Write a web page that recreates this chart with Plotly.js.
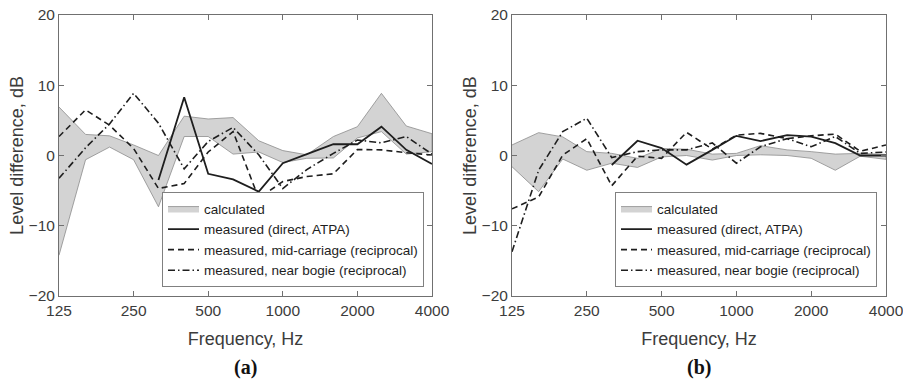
<!DOCTYPE html>
<html>
<head>
<meta charset="utf-8">
<script src="https://cdn.plot.ly/plotly-3.0.1.min.js"></script>
<style>
  html, body { margin: 0; padding: 0; background: #fff; }
  #chart { width: 903px; height: 380px; }
</style>
</head>
<body>
<div id="chart"></div>
<script>
// Third-octave band centre frequencies (Hz)
const freqs = [125, 160, 200, 250, 315, 400, 500, 630, 800, 1000, 1250, 1600, 2000, 2500, 3150, 4000];
const tickVals = [125, 250, 500, 1000, 2000, 4000];
const tickText = ['125', '250', '500', '1000', '2000', '4000'];
const seriesNames = ['calculated', 'measured (direct, ATPA)', 'measured, mid-carriage (reciprocal)', 'measured, near bogie (reciprocal)'];
const panelLabels = ['(a)', '(b)'];

// Panel (a)
const calcUpperA = [6.9, 3.0, 2.8, 1.5, 0.0, 5.6, 5.2, 5.4, 2.1, 0.7, 0.1, 2.7, 4.1, 8.85, 4.2, 3.1];
const calcLowerA = [-14.2, -0.6, 1.2, -0.6, -7.3, 2.7, 2.7, 0.2, 0.5, -1.0, -0.4, -0.35, 2.5, 3.4, 0.2, 0.55];
const directA = [null, null, null, null, -3.5, 8.3, -2.6, -3.4, -5.15, -1.1, 0.2, 1.6, 1.6, 4.1, 0.8, -1.2];
const midA = [2.7, 6.5, 4.3, 1.0, -4.7, -4.0, 0.5, 3.4, -6.1, -3.7, -3.0, -2.6, 0.85, 0.8, 0.4, 0.07];
const bogieA = [-3.25, 1.1, 4.5, 8.85, 4.6, -1.9, 2.0, 4.0, 0.1, -4.7, -2.0, 0.3, 2.2, 1.8, 2.7, 0.2];

// Panel (b)
const calcUpperB = [1.5, 3.25, 2.65, 0.55, 0.3, -0.4, 1.0, 0.9, 0.2, 0.3, 1.4, 0.8, 0.55, 0.2, 0.3, 0.15];
const calcLowerB = [-1.6, -5.15, -0.5, -2.1, -1.1, -1.7, -0.2, 0.0, -0.65, 0.0, 0.1, 0.0, -0.4, -2.1, -0.1, -0.55];
const directB = [null, null, null, null, -1.35, 2.1, 1.05, -1.3, 0.8, 2.8, 2.05, 2.9, 2.7, 1.75, 0.0, 0.0];
const midB = [-7.6, -5.9, 0.05, 2.4, -4.3, -0.1, -0.4, 3.3, 0.9, 2.9, 3.15, 2.4, 2.8, 3.05, 0.6, 1.5];
const bogieB = [-13.7, -2.1, 3.4, 5.3, -0.3, 0.55, 0.8, 0.8, 1.8, -1.1, 1.25, 2.4, 1.25, 2.7, 0.3, 0.5];

const lineColor = '#1e1e1e';
const styles = [
  null,
  { dash: 'solid', width: 1.8 },
  { dash: '6px,4px', width: 1.6 },
  { dash: '7px,3px,1.5px,3px', width: 1.6 }
];

function panel(upper, lower, direct, mid, bogie, xa, ya, legendId) {
  const bandX = freqs.concat(freqs.slice().reverse());
  const bandY = upper.concat(lower.slice().reverse());
  const traces = [{
    x: bandX, y: bandY, xaxis: xa, yaxis: ya, legend: legendId,
    type: 'scatter', mode: 'lines', fill: 'toself',
    fillcolor: '#d3d3d3', line: { color: '#8c8c8c', width: 0.8 },
    name: seriesNames[0], hoverinfo: 'skip'
  }];
  [direct, mid, bogie].forEach((ys, i) => {
    traces.push({
      x: freqs, y: ys, xaxis: xa, yaxis: ya, legend: legendId,
      type: 'scatter', mode: 'lines', connectgaps: false,
      line: { color: lineColor, width: styles[i + 1].width, dash: styles[i + 1].dash },
      name: seriesNames[i + 1]
    });
  });
  return traces;
}

const data = panel(calcUpperA, calcLowerA, directA, midA, bogieA, 'x', 'y', 'legend')
  .concat(panel(calcUpperB, calcLowerB, directB, midB, bogieB, 'x2', 'y2', 'legend2'));

const axisColor = '#707070';
const tickFont = { family: 'Liberation Sans, Arial, sans-serif', size: 15.5, color: '#3c3c3c' };
const titleFont = { family: 'Liberation Sans, Arial, sans-serif', size: 18, color: '#3c3c3c' };

function xAxis(domain, anchor) {
  return {
    domain: domain, anchor: anchor, type: 'log',
    range: [Math.log10(125), Math.log10(4000)],
    tickvals: tickVals, ticktext: tickText,
    ticks: 'inside', ticklen: 5, tickcolor: axisColor, tickwidth: 1,
    showline: true, linecolor: axisColor, linewidth: 1, mirror: 'ticks',
    showgrid: false, zeroline: false, tickfont: tickFont,
    ticklabeloverflow: 'allow',
    title: { text: 'Frequency, Hz', font: titleFont, standoff: 14 }
  };
}
function yAxis(anchor) {
  return {
    domain: [0, 1], anchor: anchor, range: [-20, 20],
    tickvals: [-20, -10, 0, 10, 20],
    ticks: 'inside', ticklen: 5, tickcolor: axisColor, tickwidth: 1,
    showline: true, linecolor: axisColor, linewidth: 1, mirror: 'ticks',
    showgrid: false, zeroline: false, tickfont: tickFont,
    ticklabeloverflow: 'allow',
    title: { text: 'Level difference, dB', font: titleFont, standoff: 0 }
  };
}

const W = 903;
const legendCommon = {
  bgcolor: '#ffffff', bordercolor: '#808080', borderwidth: 1,
  font: { family: 'Liberation Sans, Arial, sans-serif', size: 13.5, color: '#1e1e1e' },
  xanchor: 'right', yanchor: 'bottom', y: 0.031, itemwidth: 31,
  tracegroupgap: 0, traceorder: 'normal'
};

const labelFont = { family: 'Liberation Serif, Times New Roman, serif', size: 20, color: '#111' };

const layout = {
  width: 903, height: 380,
  margin: { l: 0, r: 0, t: 15, b: 84 },
  paper_bgcolor: '#ffffff', plot_bgcolor: '#ffffff',
  showlegend: true,
  xaxis: xAxis([59 / W, 432 / W], 'y'),
  yaxis: yAxis('x'),
  xaxis2: xAxis([512 / W, 886 / W], 'y2'),
  yaxis2: yAxis('x2'),
  legend: Object.assign({}, legendCommon, { x: 424 / W }),
  legend2: Object.assign({}, legendCommon, { x: 877 / W }),
  annotations: panelLabels.map((t, i) => ({
    text: '<b>' + t + '</b>', xref: 'paper', yref: 'paper',
    x: (i === 0 ? (59 + 432) / 2 : (512 + 886) / 2) / W, y: (296 - 367) / 281,
    xanchor: 'center', yanchor: 'middle',
    showarrow: false, font: labelFont
  }))
};

Plotly.newPlot('chart', data, layout, { staticPlot: true, displayModeBar: false });
</script>
</body>
</html>
